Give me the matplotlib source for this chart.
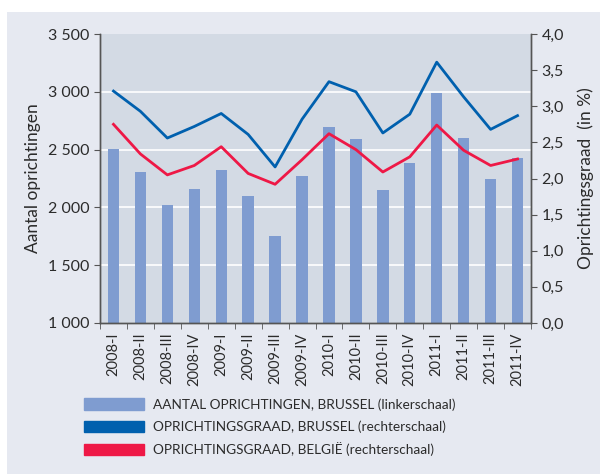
import matplotlib
matplotlib.use("Agg")
import matplotlib.pyplot as plt
import matplotlib.patches as mpatches
import numpy as np

# kwartalen
quarters = ["2008-I", "2008-II", "2008-III", "2008-IV",
            "2009-I", "2009-II", "2009-III", "2009-IV",
            "2010-I", "2010-II", "2010-III", "2010-IV",
            "2011-I", "2011-II", "2011-III", "2011-IV"]

# aantal oprichtingen Brussel (linkerschaal)
oprichtingen_brussel = [2505, 2305, 2020, 2160, 2320, 2100, 1750, 2270,
                        2695, 2590, 2150, 2385, 2990, 2600, 2245, 2430]

# oprichtingsgraad in % (rechterschaal)
graad_brussel = [3.21, 2.93, 2.56, 2.72, 2.90, 2.61, 2.16, 2.82,
                 3.34, 3.20, 2.63, 2.89, 3.61, 3.13, 2.68, 2.87]
graad_belgie = [2.75, 2.34, 2.05, 2.18, 2.44, 2.07, 1.92, 2.26,
                2.62, 2.40, 2.09, 2.30, 2.74, 2.39, 2.18, 2.27]

left_ticks = [1000, 1500, 2000, 2500, 3000, 3500]
right_ticks = [0.0, 0.5, 1.0, 1.5, 2.0, 2.5, 3.0, 3.5, 4.0]

BG = "#E6E9F1"
PLOT_BG = "#D3DAE4"
BAR = "#7F9CD0"
BLUE = "#0060AE"
RED = "#EE1846"
TXT = "#2b2b2b"

plt.rcParams["font.family"] = ["Lato", "DejaVu Sans"]

fig = plt.figure(figsize=(6, 4.75), dpi=100)
fig.patch.set_facecolor("white")
fig.patches.append(mpatches.Rectangle((7 / 600, 1 / 475), 593 / 600, 462 / 475,
                                      transform=fig.transFigure, facecolor=BG,
                                      edgecolor="none", zorder=-10))

ax = fig.add_axes([100 / 600, 1 - 323 / 475, 431 / 600, 289 / 475])
ax.set_facecolor(PLOT_BG)
x = np.arange(len(quarters))

ax.bar(x, oprichtingen_brussel, width=0.42, color=BAR, zorder=2)
ax.set_ylim(1000, 3500)
ax.set_xlim(-0.5, len(quarters) - 0.5)
ax.set_yticks(left_ticks)
ax.set_yticklabels([f"{v:,}".replace(",", " ") for v in left_ticks], fontsize=11.5, color=TXT)
for v in left_ticks[1:-1]:
    ax.axhline(v, color="white", lw=1.2, zorder=1)

ax.set_xticks(x)
ax.set_xticklabels(quarters, rotation=90, fontsize=10.5, color=TXT)
ax.set_xticks(np.arange(len(quarters) + 1) - 0.5, minor=True)
ax.tick_params(axis="x", which="major", length=0, pad=7)
ax.tick_params(axis="x", which="minor", length=4, color="#555555")
ax.tick_params(axis="y", length=4, color="#555555")
ax.set_ylabel("Aantal oprichtingen", fontsize=12.5, color=TXT, labelpad=5)

ax2 = ax.twinx()
ax2.plot(x, graad_brussel, color=BLUE, lw=2, zorder=3)
ax2.plot(x, graad_belgie, color=RED, lw=2, zorder=3)
ax2.set_ylim(0, 4)
ax2.set_yticks(right_ticks)
ax2.set_yticklabels([f"{v:.1f}".replace(".", ",") for v in right_ticks], fontsize=11.5, color=TXT)
ax2.tick_params(axis="y", length=4, color="#555555")
ax2.set_ylabel("Oprichtingsgraad  (in %)", fontsize=12.5, color=TXT, labelpad=10)

for a in (ax, ax2):
    a.spines["top"].set_visible(False)
    for s in ("left", "right", "bottom"):
        a.spines[s].set_color("#555555")
        a.spines[s].set_linewidth(1)

handles = [mpatches.Patch(color=BAR), mpatches.Patch(color=BLUE), mpatches.Patch(color=RED)]
labels = ["AANTAL OPRICHTINGEN, BRUSSEL (linkerschaal)",
          "OPRICHTINGSGRAAD, BRUSSEL (rechterschaal)",
          "OPRICHTINGSGRAAD, BELGIË (rechterschaal)"]
leg = fig.legend(handles, labels, loc="upper left", bbox_to_anchor=(72 / 600, 1 - 386 / 475),
                 frameon=False, fontsize=9.8, handlelength=4.4, handleheight=0.9,
                 handletextpad=0.65, labelspacing=0.7)
for t in leg.get_texts():
    t.set_color(TXT)

fig.savefig("out.png", dpi=100, facecolor=fig.get_facecolor())
